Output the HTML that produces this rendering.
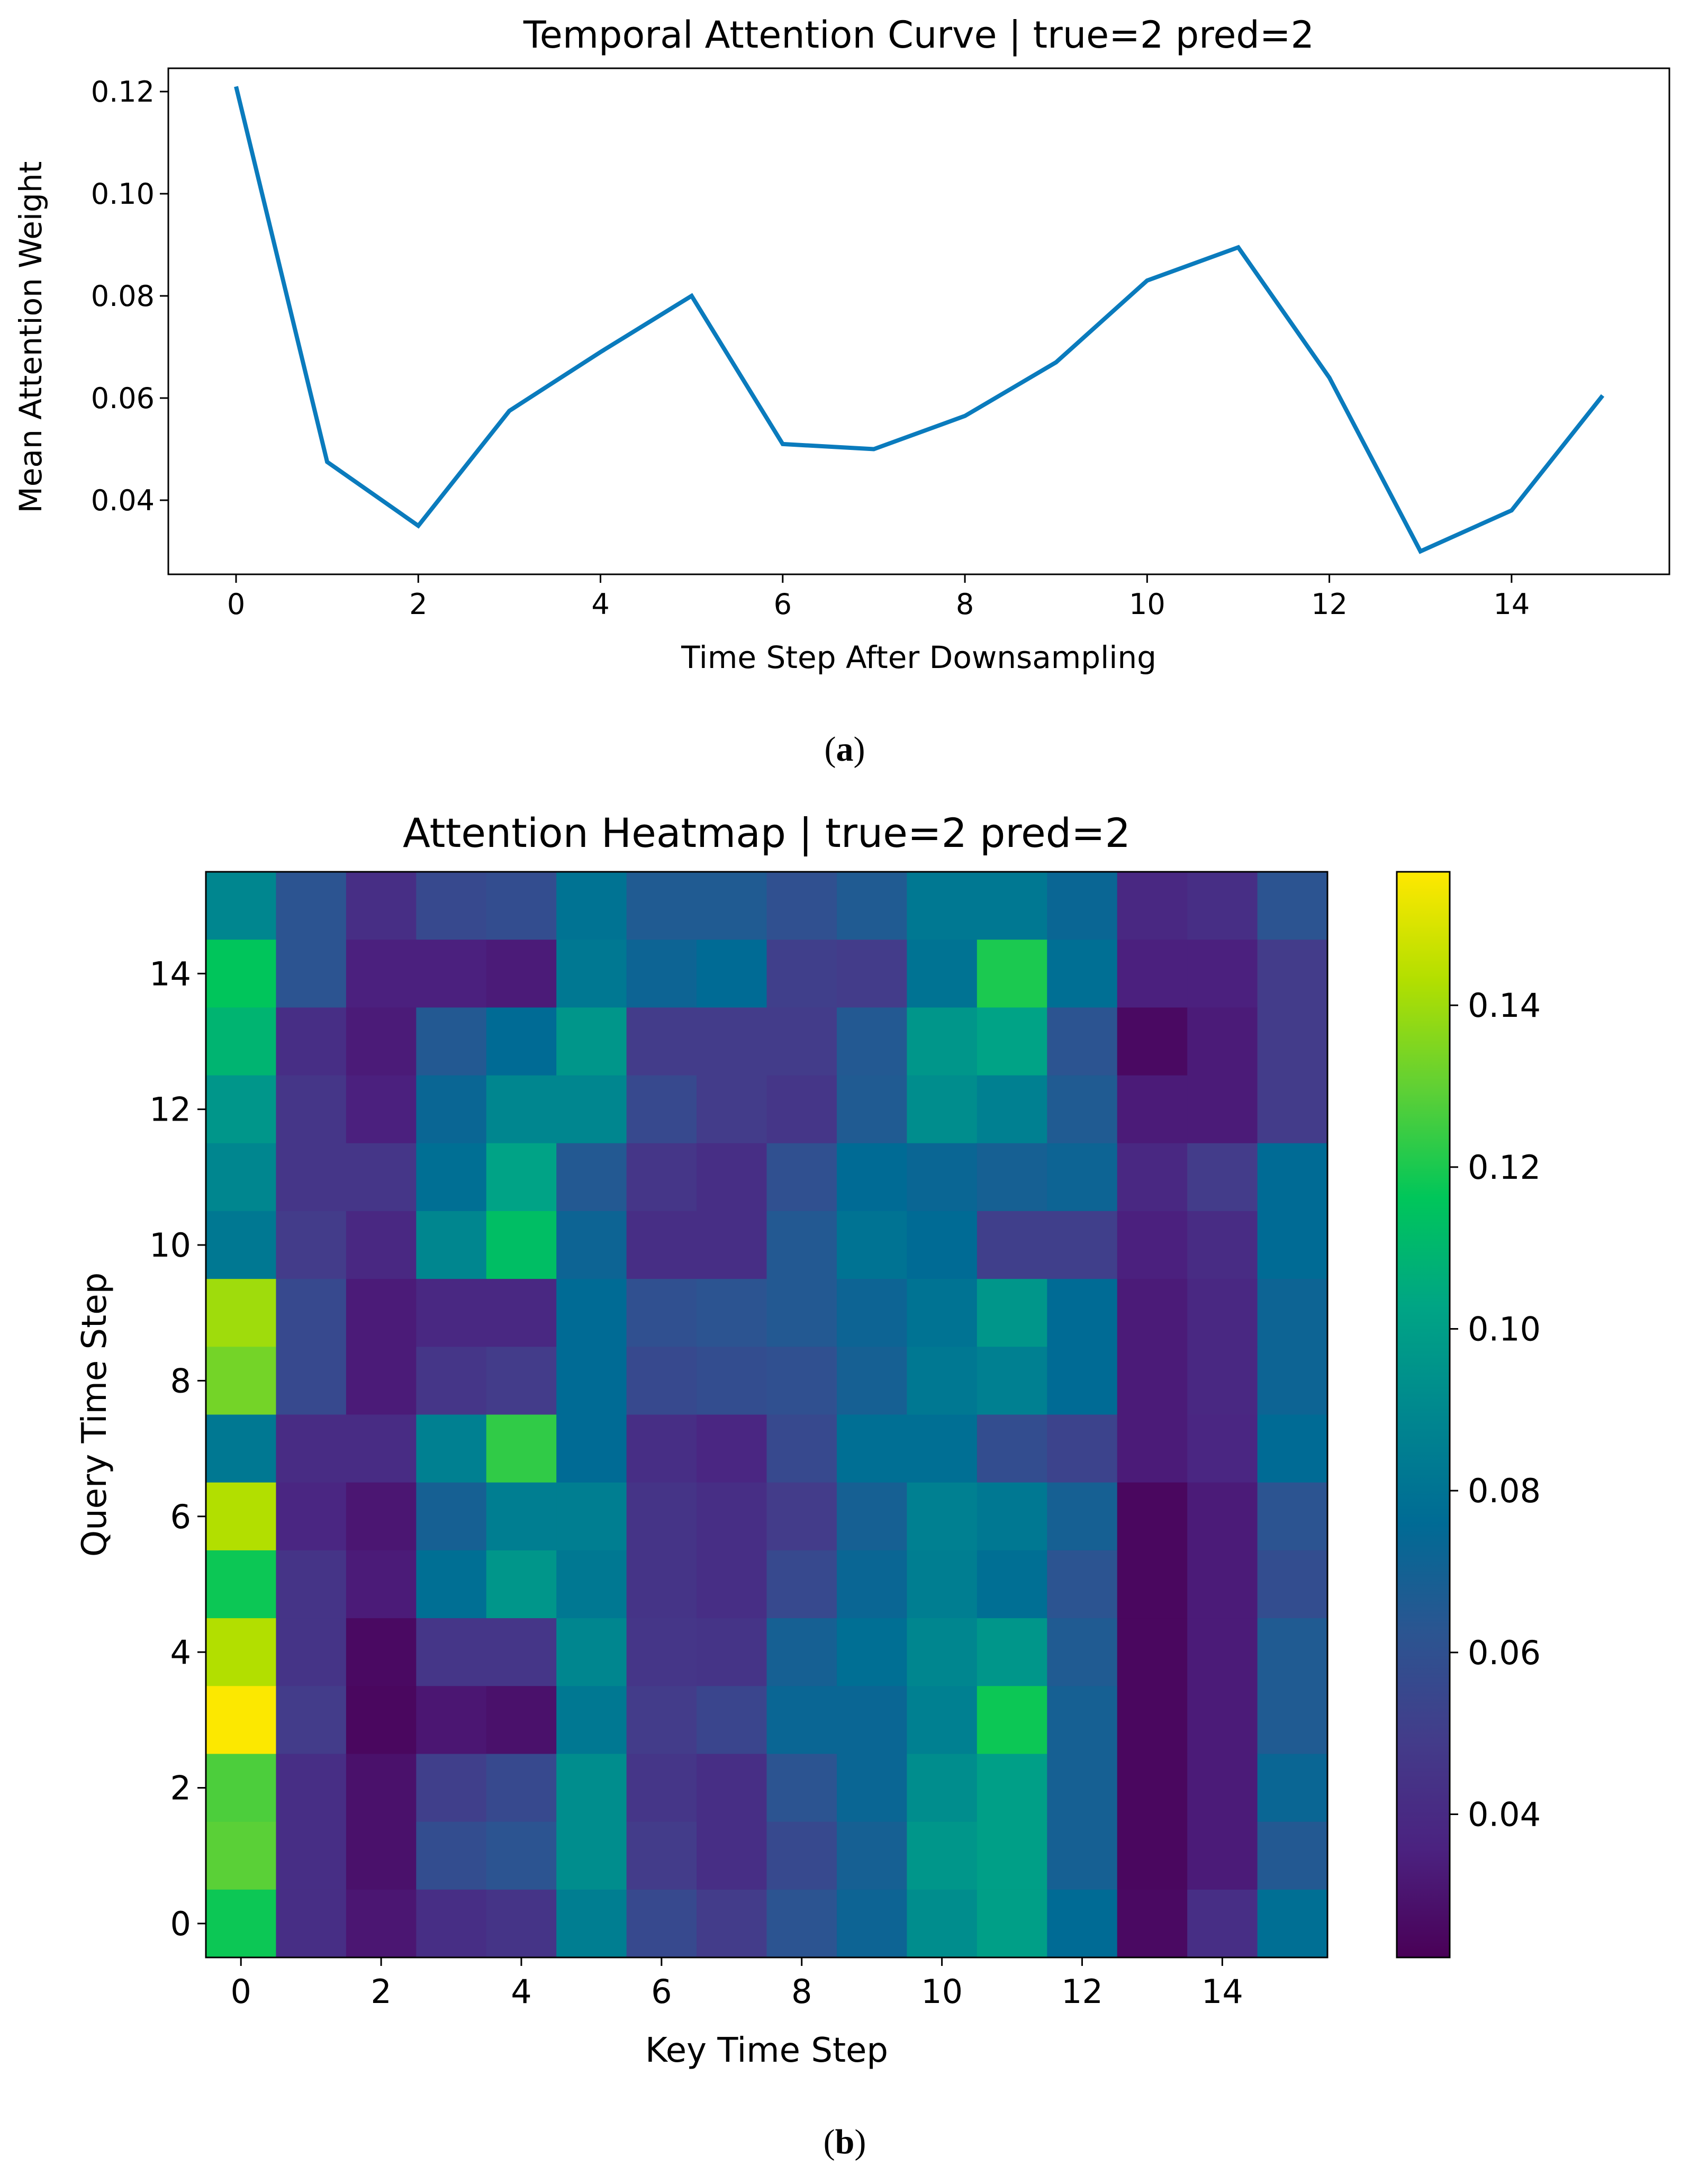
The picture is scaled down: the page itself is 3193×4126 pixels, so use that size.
<!DOCTYPE html>
<html><head><meta charset="utf-8">
<style>
html,body{margin:0;padding:0;background:#fff;}
svg{display:block;font-family:"DejaVu Sans","Liberation Sans",sans-serif;}
</style></head>
<body>
<svg id="fig" width="3193" height="4126" viewBox="0 0 3193 4126" xmlns="http://www.w3.org/2000/svg"></svg>
<script>
// ---- Chart (a) data ----
const curveSteps = [0,1,2,3,4,5,6,7,8,9,10,11,12,13,14,15];
const curveValues = [0.121,0.0475,0.035,0.0575,0.069,0.080,0.051,0.050,0.0565,0.067,0.083,0.0895,0.064,0.030,0.038,0.0605];
const curveXTicks = [0,2,4,6,8,10,12,14];
const curveYTicks = [0.04,0.06,0.08,0.10,0.12];
const curveYTickLabels = ["0.04","0.06","0.08","0.10","0.12"];

// ---- Chart (b) data: rows listed from query 15 (top) down to query 0 ----
const heatRowsTopDown = [
[.089,.062,.042,.056,.058,.080,.066,.066,.060,.066,.082,.082,.073,.039,.042,.062],
[.116,.062,.035,.035,.033,.082,.072,.076,.051,.049,.080,.120,.078,.035,.035,.049],
[.109,.042,.033,.065,.076,.096,.049,.049,.049,.065,.096,.102,.062,.026,.033,.049],
[.096,.046,.035,.073,.089,.089,.056,.049,.046,.066,.092,.086,.066,.033,.033,.049],
[.089,.046,.046,.078,.102,.065,.046,.042,.060,.076,.073,.069,.072,.039,.049,.076],
[.082,.049,.039,.089,.113,.072,.042,.042,.065,.080,.076,.051,.051,.035,.041,.076],
[.140,.056,.033,.039,.039,.076,.060,.062,.065,.072,.080,.096,.076,.033,.039,.072],
[.133,.056,.033,.046,.049,.076,.056,.058,.060,.069,.082,.086,.076,.033,.039,.072],
[.082,.041,.041,.086,.123,.076,.042,.038,.056,.078,.078,.058,.053,.033,.038,.076],
[.143,.038,.031,.069,.085,.085,.045,.042,.049,.069,.086,.082,.069,.025,.033,.062],
[.118,.045,.033,.078,.096,.082,.045,.042,.056,.073,.085,.078,.062,.025,.033,.058],
[.143,.045,.026,.046,.046,.089,.046,.045,.069,.078,.089,.096,.066,.025,.033,.066],
[.156,.049,.025,.031,.029,.082,.049,.054,.073,.073,.086,.118,.069,.025,.033,.066],
[.127,.042,.029,.051,.056,.092,.046,.042,.062,.073,.092,.100,.069,.025,.033,.073],
[.129,.042,.029,.058,.062,.092,.049,.042,.056,.069,.096,.100,.069,.025,.033,.065],
[.118,.042,.031,.042,.045,.085,.056,.049,.062,.072,.092,.100,.076,.026,.042,.078]
];
const heatXTicks = [0,2,4,6,8,10,12,14];
const heatYTicks = [0,2,4,6,8,10,12,14];
const cbarTicks = [0.04,0.06,0.08,0.10,0.12,0.14];
const cbarTickLabels = ["0.04","0.06","0.08","0.10","0.12","0.14"];
const colorMin = 0.0223, colorMax = 0.1565;

const NS = "http://www.w3.org/2000/svg";
const svg = document.getElementById('fig');
function mk(tag, attrs, parent){
  const e = document.createElementNS(NS, tag);
  for (const k in attrs) e.setAttribute(k, attrs[k]);
  (parent||svg).appendChild(e); return e;
}
function txt(s, attrs, parent){ const t = mk('text', attrs, parent); t.textContent = s; return t; }

// ===== Chart (a) =====
const A = {l:318, r:3154, t:129, b:1085};
const ax = v => 446 + (v-0)*(3028-446)/15;
const ay = v => 945 - (v-0.04)*(945-173)/0.08;
const gA = mk('g', {});


const ttlA = txt('Temporal Attention Curve | true=2 pred=2', {x:(A.l+A.r)/2, y:90, 'font-size':70, 'text-anchor':'middle'}, gA);


let pts = curveValues.map((v,i)=>ax(curveSteps[i]).toFixed(1)+','+ay(v).toFixed(1)).join(' ');
const line = mk('polyline', {points:pts, fill:'none', stroke:'#0a7bbd', 'stroke-width':8, 'stroke-linejoin':'miter'}, gA);


const frameA = mk('rect', {x:A.l, y:A.t, width:A.r-A.l, height:A.b-A.t, fill:'none', stroke:'#000', 'stroke-width':3}, gA);


curveXTicks.forEach(v=>{
  const x = ax(v);
  mk('line', {x1:x, y1:A.b, x2:x, y2:A.b+16, stroke:'#000', 'stroke-width':3}, gA);
  const t = txt(String(v), {x:x, y:A.b+75, 'font-size':54, 'text-anchor':'middle'}, gA);
  
  
});
curveYTicks.forEach((v,i)=>{
  const y = ay(v);
  mk('line', {x1:A.l-16, y1:y, x2:A.l, y2:y, stroke:'#000', 'stroke-width':3}, gA);
  const t = txt(curveYTickLabels[i], {x:A.l-26, y:y+19, 'font-size':54, 'text-anchor':'end'}, gA);
  
  
});
const xlA = txt('Time Step After Downsampling', {x:(A.l+A.r)/2, y:1262, 'font-size':58, 'text-anchor':'middle'}, gA);


const ylA = txt('Mean Attention Weight', {x:0, y:0, 'font-size':58, 'text-anchor':'middle', transform:'translate(78,'+((A.t+A.b)/2+30)+') rotate(-90)'}, gA);


const capA = mk('text', {x:1596, y:1437, 'font-size':66, 'text-anchor':'middle', 'font-family':'Liberation Serif, serif'});
capA.innerHTML = '(<tspan font-weight="bold">a</tspan>)';



// ===== Chart (b) =====
const V = [[0,'#4a0057'],[0.1,'#4b2280'],[0.2,'#433c8a'],[0.3,'#2b5591'],[0.4,'#006b95'],[0.5,'#00878f'],[0.6,'#00a585'],[0.7,'#00c65a'],[0.8,'#5fd035'],[0.9,'#b2df00'],[1,'#ffe800']];
function hex(h){return [1,3,5].map(i=>parseInt(h.substr(i,2),16));}
function viridis(t){
  t = Math.max(0,Math.min(1,t));
  for (let i=0;i<V.length-1;i++){
    if (t<=V[i+1][0]){
      const f=(t-V[i][0])/(V[i+1][0]-V[i][0]); const a=hex(V[i][1]), b=hex(V[i+1][1]);
      return 'rgb('+a.map((c,k)=>Math.round(c+(b[k]-c)*f)).join(',')+')';
    }
  }
  return V[V.length-1][1];
}
const H = {l:389, r:2508, t:1647, b:3698};
const n = 16;
const cw = (H.r-H.l)/n, ch = (H.b-H.t)/n;
const hx = k => H.l + (k+0.5)*cw;
const hy = q => H.b - (q+0.5)*ch;
const gB = mk('g', {});


const ttlB = txt('Attention Heatmap | true=2 pred=2', {x:(H.l+H.r)/2, y:1600, 'font-size':76, 'text-anchor':'middle'}, gB);


heatRowsTopDown.forEach((row,ri)=>{
  const q = n-1-ri;
  row.forEach((v,k)=>{
    const c = mk('rect', {x:(hx(k)-cw/2).toFixed(2), y:(hy(q)-ch/2).toFixed(2), width:(cw+0.6).toFixed(2), height:(ch+0.6).toFixed(2), fill:viridis((v-colorMin)/(colorMax-colorMin))}, gB);
    
    
  });
});
const frameB = mk('rect', {x:H.l, y:H.t, width:H.r-H.l, height:H.b-H.t, fill:'none', stroke:'#000', 'stroke-width':3}, gB);


heatXTicks.forEach(v=>{
  const x = hx(v);
  mk('line', {x1:x, y1:H.b, x2:x, y2:H.b+16, stroke:'#000', 'stroke-width':3}, gB);
  const t = txt(String(v), {x:x, y:H.b+86, 'font-size':62, 'text-anchor':'middle'}, gB);
  
  
});
heatYTicks.forEach(v=>{
  const y = hy(v);
  mk('line', {x1:H.l-16, y1:y, x2:H.l, y2:y, stroke:'#000', 'stroke-width':3}, gB);
  const t = txt(String(v), {x:H.l-28, y:y+22, 'font-size':62, 'text-anchor':'end'}, gB);
  
  
});
const xlB = txt('Key Time Step', {x:(H.l+H.r)/2, y:3895, 'font-size':64, 'text-anchor':'middle'}, gB);


const ylB = txt('Query Time Step', {x:0, y:0, 'font-size':64, 'text-anchor':'middle', transform:'translate(200,'+((H.t+H.b)/2)+') rotate(-90)'}, gB);



// colorbar
const C = {l:2639, r:2739, t:H.t, b:H.b};
const cy = v => C.b - (v-colorMin)/(colorMax-colorMin)*(C.b-C.t);
const gC = mk('g', {}, gB);


const defs = mk('defs', {}, gC);
const grad = mk('linearGradient', {id:'vir', x1:0, y1:1, x2:0, y2:0}, defs);
V.forEach(s=>mk('stop', {offset:s[0], 'stop-color':s[1]}, grad));
mk('rect', {x:C.l, y:C.t, width:C.r-C.l, height:C.b-C.t, fill:'url(#vir)', stroke:'#000', 'stroke-width':3}, gC);
cbarTicks.forEach((v,i)=>{
  const y = cy(v);
  mk('line', {x1:C.r, y1:y, x2:C.r+16, y2:y, stroke:'#000', 'stroke-width':3}, gC);
  const t = txt(cbarTickLabels[i], {x:C.r+34, y:y+22, 'font-size':62, 'text-anchor':'start'}, gC);
  
  
});
const capB = mk('text', {x:1596, y:4068, 'font-size':66, 'text-anchor':'middle', 'font-family':'Liberation Serif, serif'});
capB.innerHTML = '(<tspan font-weight="bold">b</tspan>)';


</script>
</body></html>
